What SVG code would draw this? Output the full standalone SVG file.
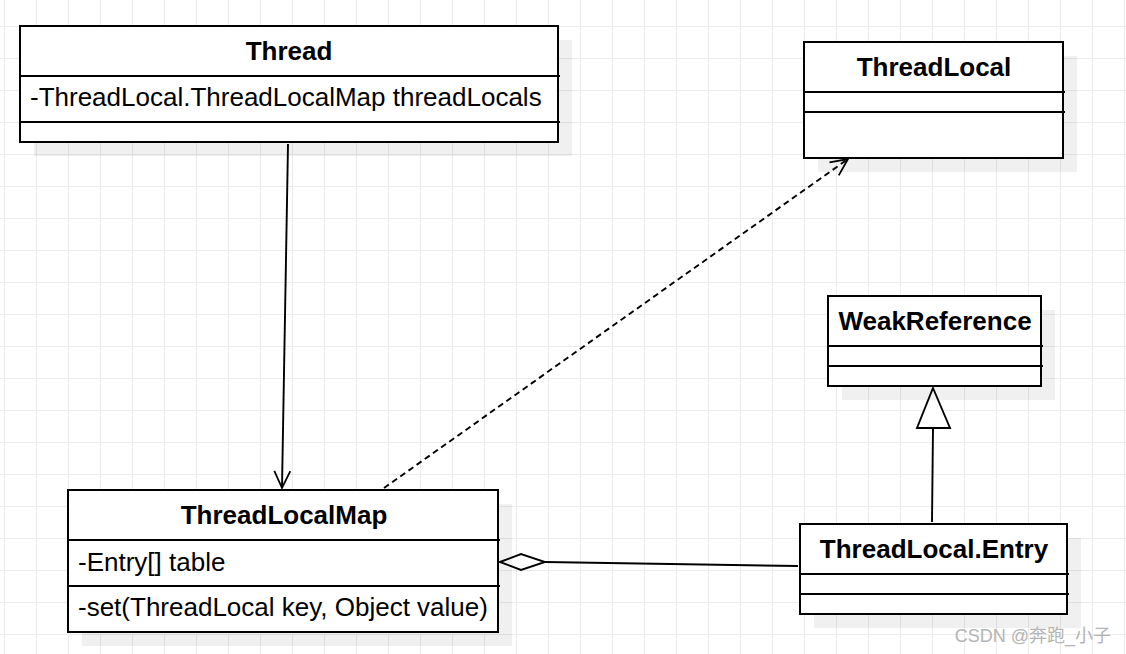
<svg xmlns="http://www.w3.org/2000/svg" width="1126" height="654" viewBox="0 0 1126 654">
<defs>
<pattern id="grid" x="4" y="26" width="32" height="32" patternUnits="userSpaceOnUse">
<path d="M0 0H32M0 0V32" fill="none" stroke="#ebebeb" stroke-width="2"/>
</pattern>
<marker id="open" markerWidth="22" markerHeight="22" refX="18" refY="9" orient="auto" markerUnits="userSpaceOnUse">
<path d="M1 1L18 9L1 17" fill="none" stroke="#000" stroke-width="1.8"/>
</marker>
</defs>
<style>
.box{fill:#fff;stroke:#000;stroke-width:2}
.sh{fill:#000;fill-opacity:0.06}
.sep{stroke:#000;stroke-width:2}
.title{font-family:"Liberation Sans",Arial,sans-serif;font-size:26px;font-weight:bold;text-anchor:middle;fill:#000}
.attr{font-family:"Liberation Sans",Arial,sans-serif;font-size:26px;fill:#000}
.edge{fill:none;stroke:#000;stroke-width:1.9}
</style>
<rect width="1126" height="654" fill="#fff"/>
<rect width="1126" height="654" fill="url(#grid)"/>

<g id="connectors">
<line class="edge" x1="288" y1="144" x2="282" y2="488" marker-end="url(#open)"/>
<line class="edge" x1="384" y1="488" x2="848" y2="159" stroke-dasharray="6 4" marker-end="url(#open)"/>
<line class="edge" x1="932" y1="522" x2="933" y2="428"/>
<path d="M933 388L950 428L917 428Z" fill="#fff" stroke="#000" stroke-width="1.9"/>
<line class="edge" x1="545" y1="562" x2="798" y2="566"/>
<path d="M500 562L521 554L545 562L521 570Z" fill="#fff" stroke="#000" stroke-width="1.9"/>
</g>

<g id="Thread">
<rect class="sh" x="34" y="40" width="538" height="116"/>
<rect class="box" x="20" y="26" width="538" height="116"/>
<line class="sep" x1="20" y1="76" x2="560" y2="76"/>
<line class="sep" x1="20" y1="122" x2="560" y2="122"/>
<text class="title" x="289" y="60">Thread</text>
<text class="attr" x="30" y="106">-ThreadLocal.ThreadLocalMap threadLocals</text>
</g>

<g id="ThreadLocal">
<rect class="sh" x="818" y="56" width="259" height="116"/>
<rect class="box" x="804" y="42" width="259" height="116"/>
<line class="sep" x1="804" y1="92" x2="1065" y2="92"/>
<line class="sep" x1="804" y1="112" x2="1065" y2="112"/>
<text class="title" x="934" y="76">ThreadLocal</text>
</g>

<g id="WeakReference">
<rect class="sh" x="842" y="310" width="213" height="90"/>
<rect class="box" x="828" y="296" width="213" height="90"/>
<line class="sep" x1="828" y1="346" x2="1043" y2="346"/>
<line class="sep" x1="828" y1="366" x2="1043" y2="366"/>
<text class="title" x="935" y="330">WeakReference</text>
</g>

<g id="ThreadLocalEntry">
<rect class="sh" x="814" y="538" width="267" height="90"/>
<rect class="box" x="800" y="524" width="267" height="90"/>
<line class="sep" x1="800" y1="574" x2="1069" y2="574"/>
<line class="sep" x1="800" y1="594" x2="1069" y2="594"/>
<text class="title" x="934" y="558">ThreadLocal.Entry</text>
</g>

<g id="ThreadLocalMap">
<rect class="sh" x="82" y="504" width="430" height="142"/>
<rect class="box" x="68" y="490" width="430" height="142"/>
<line class="sep" x1="68" y1="540" x2="500" y2="540"/>
<line class="sep" x1="68" y1="586" x2="500" y2="586"/>
<text class="title" x="284" y="524">ThreadLocalMap</text>
<text class="attr" x="78" y="571">-Entry[] table</text>
<text class="attr" x="78" y="616">-set(ThreadLocal key, Object value)</text>
</g>

<text x="1111" y="642" text-anchor="end" font-family="'Liberation Sans','Noto Sans CJK SC',sans-serif" font-size="18" fill="#b4b4b4">CSDN @奔跑_小子</text>
</svg>
